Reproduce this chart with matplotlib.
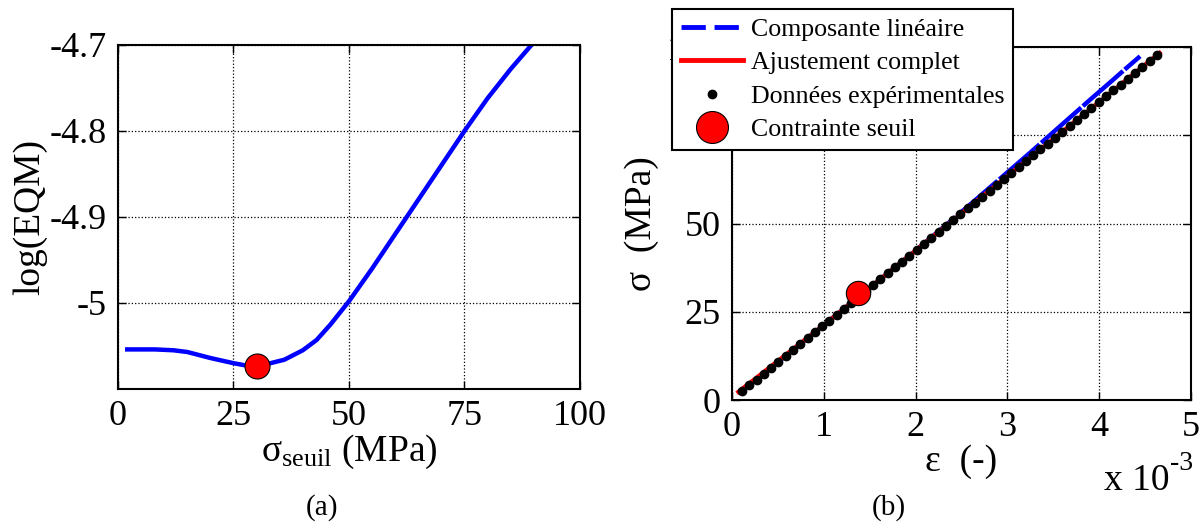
import matplotlib
matplotlib.use("Agg")
import matplotlib.pyplot as plt
from matplotlib.lines import Line2D

plt.rcParams["font.family"] = ["Liberation Serif", "DejaVu Serif"]
plt.rcParams["mathtext.fontset"] = "custom"
plt.rcParams["mathtext.rm"] = "Liberation Serif"
plt.rcParams["mathtext.it"] = "Liberation Serif:italic"
plt.rcParams["axes.unicode_minus"] = False

# (a) log of mean square error vs threshold stress
seuil = [2, 5, 8, 12, 15, 20, 25, 28, 30, 33, 36, 40, 43, 46, 50,
         55, 60, 65, 70, 75, 80, 85, 89.5]
log_eqm = [-5.054, -5.054, -5.054, -5.055, -5.057, -5.064, -5.070, -5.073,
           -5.073, -5.070, -5.066, -5.055, -5.043, -5.025, -4.998,
           -4.960, -4.920, -4.880, -4.840, -4.800, -4.762, -4.728, -4.700]
seuil_opt = 30.0
log_eqm_opt = -5.073

# (b) stress-strain curve, strain in units of 1e-3
eps_exp = [0.109, 0.189, 0.268, 0.347, 0.427, 0.506, 0.585, 0.665, 0.744, 0.823,
           0.903, 0.982, 1.061, 1.141, 1.220, 1.299, 1.379, 1.458, 1.537, 1.617,
           1.696, 1.775, 1.855, 1.934, 2.013, 2.093, 2.172, 2.251, 2.331, 2.410,
           2.489, 2.569, 2.648, 2.727, 2.807, 2.886, 2.965, 3.045, 3.124, 3.203,
           3.283, 3.362, 3.441, 3.521, 3.600, 3.679, 3.759, 3.838, 3.917, 3.997,
           4.076, 4.155, 4.235, 4.314, 4.393, 4.473, 4.552, 4.631]
sig_exp = [2.5, 4.2, 5.8, 7.5, 9.2, 10.9, 12.5, 14.2, 15.9, 17.5,
           19.2, 20.9, 22.5, 24.2, 25.9, 27.6, 29.2, 30.9, 32.6, 34.2,
           35.9, 37.6, 39.2, 40.9, 42.6, 44.3, 45.9, 47.6, 49.3, 50.9,
           52.6, 54.3, 55.9, 57.6, 59.3, 61.0, 62.6, 64.3, 66.0, 67.6,
           69.3, 71.0, 72.6, 74.3, 76.0, 77.7, 79.3, 81.0, 82.7, 84.3,
           86.0, 87.7, 89.3, 91.0, 92.7, 94.4, 96.0, 97.7]
eps_fit = [0.07, 1.0, 2.0, 3.0, 4.0, 4.66]
sig_fit = [2.3, 21.2, 42.3, 63.4, 84.4, 98.3]
eps_lin = [0.109, 0.466, 0.941, 1.416, 1.891, 2.123, 2.351, 2.578, 2.801,
           3.023, 3.246, 3.463, 3.681, 3.899, 4.121, 4.296, 4.448]
sig_lin = [2.5, 10, 20, 30, 40, 45, 50, 55, 60,
           65, 70, 75, 80, 85, 90, 94, 97.4]
eps_seuil = 1.375
sig_seuil = 30.3

TICK_FS = 26
LABEL_FS = 27

fig = plt.figure(figsize=(12.04, 5.26), dpi=100)
ax1 = fig.add_axes([0.098, 0.2605, 0.3837, 0.654])
ax2 = fig.add_axes([0.608, 0.2395, 0.381, 0.671])


def style_axes(ax):
    ax.tick_params(direction="in", top=True, right=True, length=6, width=1,
                   labelsize=TICK_FS, pad=8)
    for s in ax.spines.values():
        s.set_linewidth(1.5)
    ax.grid(True, linestyle=":", color="black", linewidth=0.9)
    ax.set_axisbelow(True)


# ---- (a)
ax1.plot(seuil, log_eqm, color="blue", lw=3.2)
ax1.plot([seuil_opt], [log_eqm_opt], "o", ms=18, mfc="red", mec="black", mew=0.8)
ax1.set_xlim(0, 100)
ax1.set_ylim(-5.1, -4.7)
ax1.set_xticks([0, 25, 50, 75, 100])
ax1.set_yticks([-5, -4.9, -4.8, -4.7])
ax1.set_yticklabels(["-5", "-4.9", "-4.8", "-4.7"])
style_axes(ax1)
ax1.set_xlabel(r"$\mathrm{σ}_{\mathrm{seuil}}$ (MPa)", fontsize=LABEL_FS, labelpad=0)
ax1.set_ylabel("log(EQM)", fontsize=LABEL_FS, labelpad=2)

# ---- (b)
ax2.plot(eps_lin, sig_lin, color="blue", lw=3.2, ls=(0, (12, 0.5)))
ax2.plot(eps_fit, sig_fit, color="red", lw=3.2)
ax2.plot(eps_exp, sig_exp, "o", ms=6, color="black")
ax2.plot([eps_seuil], [sig_seuil], "o", ms=17.5, mfc="red", mec="black", mew=0.8)
ax2.set_xlim(0, 5)
ax2.set_ylim(0, 100)
ax2.set_xticks([0, 1, 2, 3, 4, 5])
ax2.set_yticks([0, 25, 50, 75, 100])
style_axes(ax2)
ax2.set_xlabel("ε  (-)", fontsize=LABEL_FS, labelpad=0)
ax2.set_ylabel("σ  (MPa)", fontsize=LABEL_FS, labelpad=6)
fig.text(1104 / 1204, 1 - 490 / 526, "x 10", fontsize=27, ha="left", va="baseline")
fig.text(1170 / 1204, 1 - 470 / 526, "-3", fontsize=20, ha="left", va="baseline")

handles = [
    Line2D([], [], color="blue", lw=3.5, ls=(0, (5, 1.8))),
    Line2D([], [], color="red", lw=3.5),
    Line2D([], [], ls="none", marker="o", ms=6, color="black"),
    Line2D([], [], ls="none", marker="o", ms=23, mfc="red", mec="black", mew=0.8),
]
labels = ["Composante linéaire", "Ajustement complet",
          "Données expérimentales", "Contrainte seuil"]
leg = fig.legend(handles, labels, loc="upper left", bbox_to_anchor=(0.558, 0.983),
                 frameon=True, fancybox=False, edgecolor="black", framealpha=1,
                 fontsize=18.6, handlelength=2.4, borderaxespad=0, labelspacing=0.4,
                 handletextpad=0.3, borderpad=0.35)
leg.get_frame().set_linewidth(1.5)

fig.text(322 / 1204, 1 - 508 / 526, "(a)", fontsize=21, ha="center", va="center")
fig.text(889 / 1204, 1 - 508 / 526, "(b)", fontsize=21, ha="center", va="center")

fig.savefig("out.png", dpi=100)
